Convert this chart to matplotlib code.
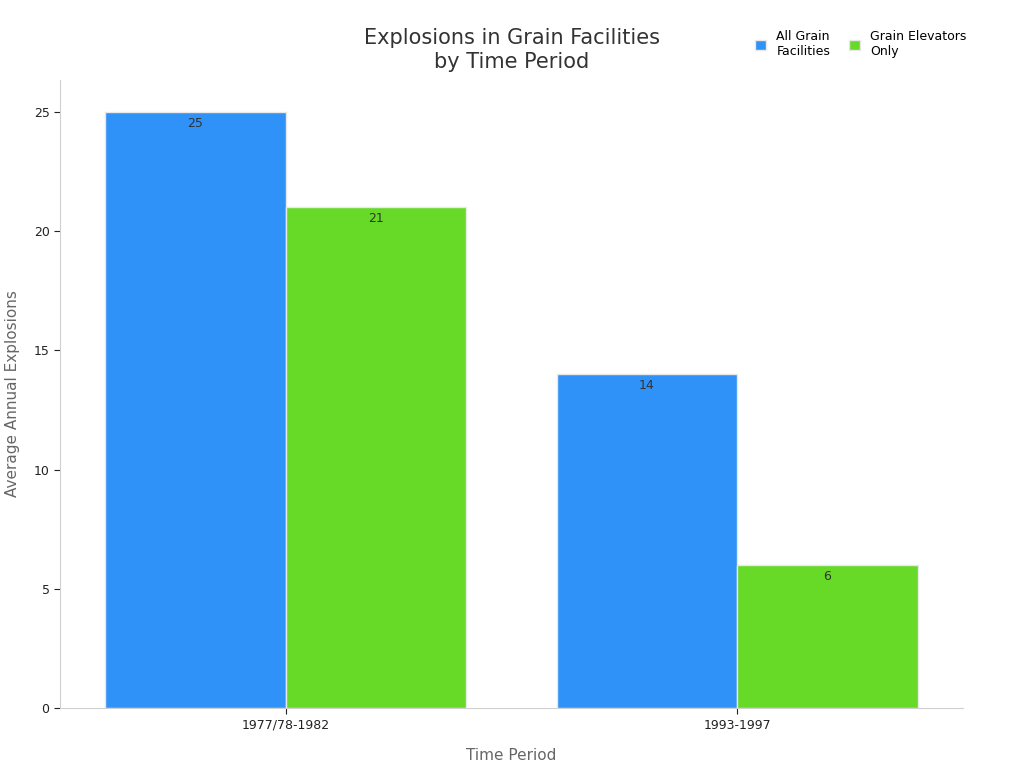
import matplotlib
matplotlib.use("Agg")
import matplotlib.pyplot as plt
import numpy as np

categories = ["1977/78-1982", "1993-1997"]
series_names = ["All Grain\nFacilities", "Grain Elevators\nOnly"]
all_grain = [25, 14]
elevators = [21, 6]
colors = ["#2F92F8", "#66DA26"]

fig = plt.figure(figsize=(10.24, 7.68), dpi=100)
ax = fig.add_axes([0.0586, 0.078, 0.8818, 0.818])
x = np.arange(len(categories))
w = 0.4
for i, (vals, name, c) in enumerate(zip([all_grain, elevators], series_names, colors)):
    pos = x + (i - 0.5) * w
    ax.bar(pos, vals, width=w, color=c, edgecolor="#e8e8e8", linewidth=1, label=name)
    for p, v in zip(pos, vals):
        ax.text(p, v - 0.2, str(v), ha="center", va="top", fontsize=9, color="#333333")

ax.set_xlim(-0.5, 1.5)
ax.set_ylim(0, 26.34)
ax.set_xticks(x)
ax.set_xticklabels(categories, fontsize=9, color="#222222")
ax.set_yticks([0, 5, 10, 15, 20, 25])
ax.tick_params(axis="y", labelsize=9, colors="#222222", length=4)
ax.tick_params(axis="x", length=4, colors="#222222")
for s in ["top", "right"]:
    ax.spines[s].set_visible(False)
for s in ["left", "bottom"]:
    ax.spines[s].set_color("#d0d0d0")
ax.set_xlabel("Time Period", fontsize=11, color="#666666", labelpad=12)
ax.set_ylabel("Average Annual Explosions", fontsize=11, color="#666666", labelpad=10)
fig.text(0.5, 0.935, "Explosions in Grain Facilities\nby Time Period", ha="center", va="center",
         fontsize=15, color="#333333", linespacing=1.3)
fig.legend(loc="upper right", bbox_to_anchor=(0.955, 0.975), ncol=2, frameon=False,
           fontsize=9, handlelength=0.9, handleheight=0.9, columnspacing=1.5)
fig.savefig("out.png", dpi=100)
